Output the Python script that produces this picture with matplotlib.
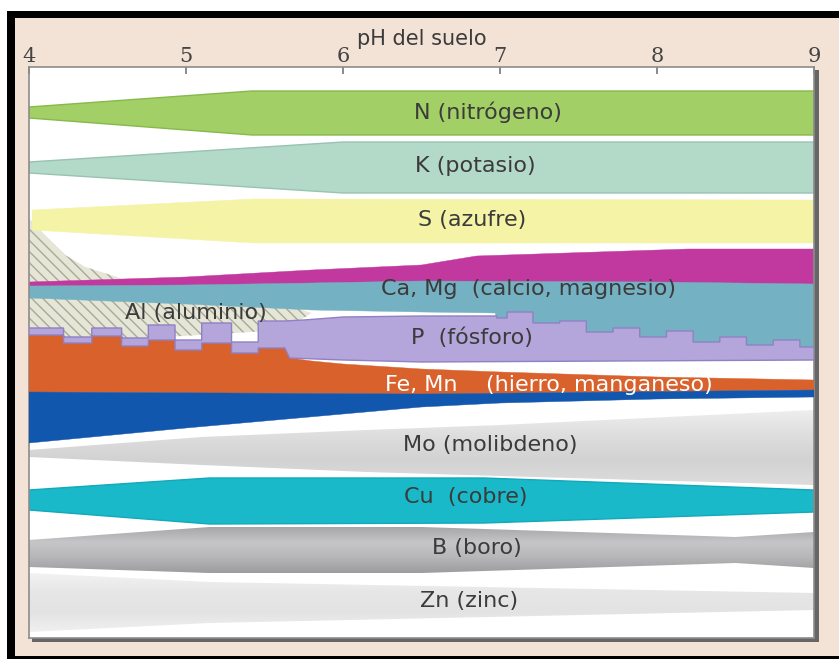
import numpy as np
import matplotlib.pyplot as plt
from matplotlib.patches import Polygon, Rectangle
from matplotlib.colors import LinearSegmentedColormap

# pH axis
PH_TICKS = [4, 5, 6, 7, 8, 9]

# band outlines: pH points and vertical position (0 = top of picture, pixels)
N_TOP_X, N_TOP_Y = [4.0, 5.42, 9.0], [107, 91, 91]
N_BOT_X, N_BOT_Y = [4.0, 5.42, 9.0], [118, 135, 135]

K_TOP_X, K_TOP_Y = [4.0, 6.0, 9.0], [162, 142, 142]
K_BOT_X, K_BOT_Y = [4.0, 6.0, 9.0], [173, 193, 193]

S_TOP_X, S_TOP_Y = [4.02, 5.43, 9.0], [210, 199, 200]
S_BOT_X, S_BOT_Y = [4.02, 5.43, 9.0], [230, 243, 243]

AL_TOP_X = [4.0, 4.1, 4.23, 4.36, 4.56, 4.8, 5.5, 5.7, 5.8]
AL_TOP_Y = [219, 235, 255, 267, 277, 292, 303, 308, 313]
AL_BOT_X, AL_BOT_Y = [4.0, 5.63, 5.8], [345, 330, 313]

CA_TOP_X = [4.0, 5.0, 5.8, 6.5, 6.85, 8.2, 9.0]
CA_TOP_Y = [282, 277, 270, 265, 256, 249, 249]
CA_BOT_X, CA_BOT_Y = [4.0, 6.5, 9.0], [288, 283, 286]

MG_TOP_X = [4.0, 5.0, 5.8, 6.5, 8.0, 9.0]
MG_TOP_Y = [286, 285, 283, 281, 282, 284]
MG_BOT_X = [4.0, 5.0, 5.8, 6.5, 6.97, 7.0, 9.0]
MG_BOT_Y = [298, 304, 310, 312, 313, 352, 356]

# P: crenellated edge in acid soils, staircase in alkaline soils
P_LEFT_EDGES = [4.0, 4.22, 4.40, 4.59, 4.76, 4.93, 5.10, 5.29, 5.46, 5.63]
P_LEFT_TOP = [328, 337, 328, 338, 325, 340, 323, 342, 321]
P_LEFT_BOT = [335, 343, 336, 346, 340, 350, 343, 353, 348]
P_MID_X, P_MID_TOP = [5.75, 6.0, 6.5, 6.98], [320, 317, 316, 316]
P_RIGHT_EDGES = [6.98, 7.045, 7.21, 7.38, 7.55, 7.72, 7.89, 8.06, 8.23,
                 8.40, 8.57, 8.74, 8.91, 9.0]
P_RIGHT_TOP = [318, 312, 323, 321, 332, 328, 337, 331, 342, 337, 345, 340, 347]
P_BOT_X, P_BOT_Y = [5.66, 6.0, 6.5, 9.0], [358, 360, 362, 360]

FE_TOP_X = [5.66, 5.8, 6.0, 6.5, 7.0, 8.0, 9.0]
FE_TOP_Y = [358, 361, 364, 369, 372, 377, 380]
FE_BOT_X, FE_BOT_Y = [4.0, 6.5, 9.0], [392, 394, 390]

MN_BOT_X = [4.0, 5.0, 6.0, 6.5, 7.0, 8.0, 9.0]
MN_BOT_Y = [443, 428, 414, 407, 403, 399, 397]

MO_TOP_X, MO_TOP_Y = [4.0, 5.1, 6.15, 7.0, 9.0], [450, 437, 430, 425, 410]
MO_BOT_X, MO_BOT_Y = [4.0, 5.1, 6.15, 7.0, 9.0], [457, 465, 472, 476, 485]

CU_TOP_X, CU_TOP_Y = [4.0, 5.15, 6.9, 9.0], [490, 478, 478, 490]
CU_BOT_X, CU_BOT_Y = [4.0, 5.15, 6.9, 9.0], [510, 524, 523, 512]

B_TOP_X, B_TOP_Y = [4.0, 5.15, 6.5, 8.5, 9.0], [540, 527, 527, 537, 532]
B_BOT_X, B_BOT_Y = [4.0, 5.15, 6.5, 8.5, 9.0], [567, 573, 573, 563, 568]

ZN_TOP_X, ZN_TOP_Y = [4.0, 5.15, 9.0], [573, 582, 593]
ZN_BOT_X, ZN_BOT_Y = [4.0, 5.15, 9.0], [632, 623, 610]

# labels: text, pH where it starts, vertical position, colour
LABELS = [
    ('N (nitrógeno)', 6.45, 112, '#3b3b3b'),
    ('K (potasio)', 6.46, 166, '#3b3b3b'),
    ('S (azufre)', 6.48, 220, '#3b3b3b'),
    ('Ca, Mg  (calcio, magnesio)', 6.24, 289, '#3b3b3b'),
    ('Al (aluminio)', 4.61, 313, '#3b3b3b'),
    ('P  (fósforo)', 6.43, 338, '#3b3b3b'),
    ('Fe, Mn    (hierro, manganeso)', 6.27, 385, 'white'),
    ('Mo (molibdeno)', 6.38, 445, '#3b3b3b'),
    ('Cu  (cobre)', 6.39, 497, '#3b3b3b'),
    ('B (boro)', 6.57, 548, '#3b3b3b'),
    ('Zn (zinc)', 6.49, 601, '#3b3b3b'),
]

W, H = 839, 659
plt.rcParams['hatch.linewidth'] = 1.0
fig = plt.figure(figsize=(W / 100, H / 100), dpi=100)


def fig_box(x0, y0, x1, y1, color):
    fig.add_artist(Rectangle((x0 / W, 1 - y1 / H), (x1 - x0) / W, (y1 - y0) / H,
                             transform=fig.transFigure, facecolor=color,
                             edgecolor='none', zorder=-1))


# frame around the picture
fig_box(15, 18, 839, 656, '#f3e3d6')
fig_box(7, 11, 839, 18, 'black')
fig_box(7, 11, 15, 659, 'black')
fig_box(7, 656, 839, 659, 'black')
fig_box(32, 70, 819, 642, '#666666')  # drop shadow

ax = fig.add_axes([29 / W, 1 - 638 / H, (814 - 29) / W, (638 - 67) / H])
ax.set_facecolor('white')


def outline(tx, ty, bx, by):
    return np.r_[tx, bx[::-1]], np.r_[ty, by[::-1]]


def band(tx, ty, bx, by, face, edge=None, z=2, **kw):
    xs, ys = outline(tx, ty, bx, by)
    ax.fill(xs, ys, facecolor=face, edgecolor=edge if edge else face,
            linewidth=1.0 if edge else 0.3, zorder=z, **kw)


def shaded_band(tx, ty, bx, by, colors, z=2):
    xs, ys = outline(tx, ty, bx, by)
    patch = Polygon(np.c_[xs, ys], closed=True, facecolor='none', edgecolor='none')
    ax.add_patch(patch)
    cmap = LinearSegmentedColormap.from_list('g', colors)
    grad = np.linspace(0, 1, 256).reshape(-1, 1)
    im = ax.imshow(grad, cmap=cmap, aspect='auto', interpolation='bilinear',
                   extent=(4, 9, max(ys), min(ys)), origin='upper', zorder=z)
    im.set_clip_path(patch)


def steps(edges, levels):
    return np.repeat(edges, 2)[1:-1], np.repeat(levels, 2)


band(N_TOP_X, N_TOP_Y, N_BOT_X, N_BOT_Y, '#a3d066', '#86b94a')
band(K_TOP_X, K_TOP_Y, K_BOT_X, K_BOT_Y, '#b3d9c9', '#98c3b1')
band(S_TOP_X, S_TOP_Y, S_BOT_X, S_BOT_Y, '#f4f3a6')

# aluminium (hatched, behind everything else)
xs, ys = outline(AL_TOP_X, AL_TOP_Y, AL_BOT_X, AL_BOT_Y)
ax.fill(xs, ys, facecolor='#e6e6d6', edgecolor='#a9a99b', hatch='\\\\\\',
        linewidth=0, zorder=1)

band(CA_TOP_X, CA_TOP_Y, CA_BOT_X, CA_BOT_Y, '#c1389e')
band(MG_TOP_X, MG_TOP_Y, MG_BOT_X, MG_BOT_Y, '#74b2c3')

# Fe, Mn and the blue part below it
lx, lb = steps(P_LEFT_EDGES, P_LEFT_BOT)
band(np.r_[lx, FE_TOP_X], np.r_[lb, FE_TOP_Y], FE_BOT_X, FE_BOT_Y, '#d9612c', z=3)
band(FE_BOT_X, FE_BOT_Y, MN_BOT_X, MN_BOT_Y, '#1257ae', z=3)

# P
lx, lt = steps(P_LEFT_EDGES, P_LEFT_TOP)
rx, rt = steps(P_RIGHT_EDGES, P_RIGHT_TOP)
lbx, lbb = steps(P_LEFT_EDGES, P_LEFT_BOT)
band(np.r_[lx, P_MID_X, rx], np.r_[lt, P_MID_TOP, rt],
     np.r_[lbx, P_BOT_X], np.r_[lbb, P_BOT_Y], '#b4a5da', '#9080c4', z=4)

shaded_band(MO_TOP_X, MO_TOP_Y, MO_BOT_X, MO_BOT_Y,
            ['#eeeeee', '#dedede', '#d2d2d2', '#dcdcdc'])
band(CU_TOP_X, CU_TOP_Y, CU_BOT_X, CU_BOT_Y, '#19b9c9', '#12a9ba')
shaded_band(B_TOP_X, B_TOP_Y, B_BOT_X, B_BOT_Y,
            ['#a6a6a8', '#c6c6c8', '#b6b6b8', '#9c9c9e'])
shaded_band(ZN_TOP_X, ZN_TOP_Y, ZN_BOT_X, ZN_BOT_Y,
            ['#f2f2f2', '#e6e6e6', '#e3e3e3', '#f0f0f0'])

for text, x, y, color in LABELS:
    ax.text(x, y, text, ha='left', va='center', fontsize=16, color=color,
            family='DejaVu Sans', zorder=6)

ax.set_xlim(4, 9)
ax.set_ylim(638, 67)
ax.set_yticks([])
ax.xaxis.tick_top()
ax.xaxis.set_label_position('top')
ax.set_xticks(PH_TICKS)
ax.tick_params(axis='x', direction='in', length=5, width=1.2, color='#777777',
               labelsize=15, labelcolor='#444444', pad=1)
for lab in ax.get_xticklabels():
    lab.set_family('DejaVu Serif')
ax.set_xlabel('pH del suelo', fontsize=15, color='#3b3b3b', labelpad=1)
for side in ax.spines.values():
    side.set_color('#8c8c8c')
    side.set_linewidth(1.2)

fig.savefig('out.png', dpi=100)
